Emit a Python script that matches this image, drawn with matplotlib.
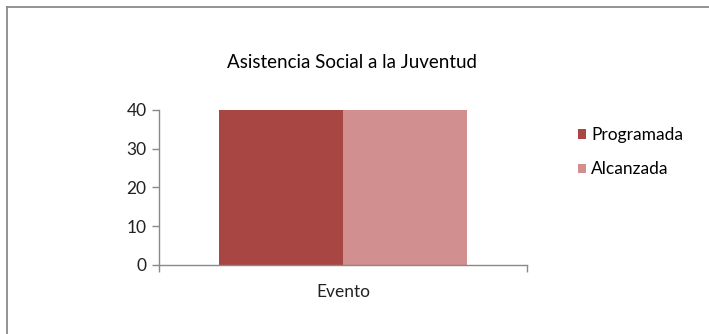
import numpy as np
import matplotlib
matplotlib.use('Agg')
import matplotlib.pyplot as plt
from matplotlib.lines import Line2D

matplotlib.rcParams['font.family'] = ['Lato', 'DejaVu Sans']

# Datos
categorias = ['Evento']
series = ['Programada', 'Alcanzada']
valores = {'Programada': [40], 'Alcanzada': [40]}
colores = ['#A84644', '#D28F8F']
titulo = 'Asistencia Social a la Juventud'

fig = plt.figure(figsize=(7.09, 3.34), dpi=100)
ax = fig.add_axes([0.2243, 0.2066, 0.519, 0.4641])

x = np.arange(len(categorias))
ancho = 0.337
for i, s in enumerate(series):
    ax.bar(x + (i - 0.5) * ancho, valores[s], width=ancho, color=colores[i],
           label=s, zorder=2)

ax.set_xlim(-0.5, 0.5)
ax.set_ylim(0, 40)
ax.set_yticks([0, 10, 20, 30, 40])
ax.set_xticks(x)
ax.set_xticklabels(categorias, fontsize=12.5, color='#222222')
ax.set_xticks([-0.5, 0.5], minor=True)
ax.tick_params(axis='x', which='major', length=0, pad=14)
ax.tick_params(axis='x', which='minor', length=5, color='#898989', width=1)
ax.tick_params(axis='y', length=5, color='#898989', width=1, labelsize=12.5,
               labelcolor='#222222', pad=4)

for lado in ['top', 'right']:
    ax.spines[lado].set_visible(False)
for lado in ['left', 'bottom']:
    ax.spines[lado].set_color('#898989')
    ax.spines[lado].set_linewidth(1)

fig.text(0.497, 0.812, titulo, ha='center', va='center', fontsize=13.5,
         color='black')

fig.legend(loc='upper left', bbox_to_anchor=(0.803, 0.645), frameon=False,
           fontsize=12.5, handlelength=0.45, handleheight=0.45,
           handletextpad=0.3, labelspacing=1.05, borderpad=0)

# Borde del gráfico (solo izquierda y arriba visibles)
fig.add_artist(Line2D([6.5 / 709, 6.5 / 709], [0, 1 - 6.5 / 334],
                      transform=fig.transFigure, color='#8A8A8A', lw=1.3))
fig.add_artist(Line2D([6.5 / 709, 1], [1 - 6.5 / 334, 1 - 6.5 / 334],
                      transform=fig.transFigure, color='#8A8A8A', lw=1.3))

fig.savefig('out.png', dpi=100)
